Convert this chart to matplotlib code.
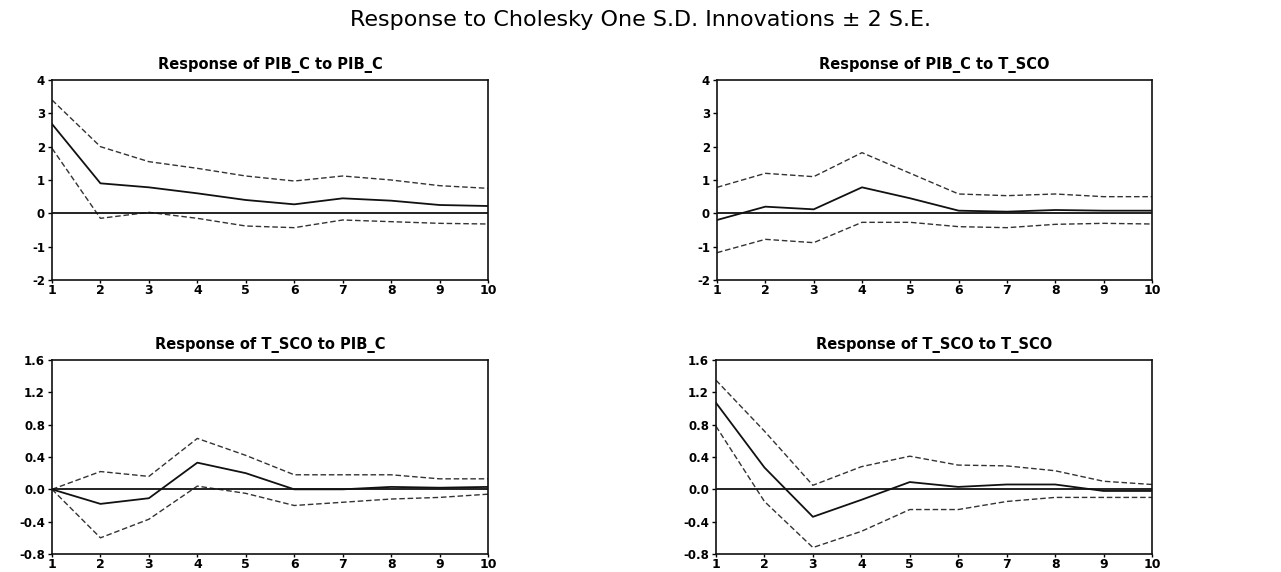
import matplotlib
matplotlib.use("Agg")
import matplotlib.pyplot as plt

plt.rcParams['font.family'] = ['DejaVu Sans']

periods = list(range(1, 11))

# Response of PIB_C to PIB_C
pib_pib_mid = [2.68, 0.90, 0.78, 0.60, 0.40, 0.27, 0.45, 0.38, 0.25, 0.22]
pib_pib_up = [3.40, 2.00, 1.55, 1.35, 1.12, 0.97, 1.12, 1.00, 0.83, 0.75]
pib_pib_lo = [1.95, -0.15, 0.03, -0.15, -0.38, -0.43, -0.20, -0.25, -0.30, -0.32]

# Response of PIB_C to T_SCO
pib_sco_mid = [-0.20, 0.20, 0.12, 0.78, 0.45, 0.08, 0.05, 0.10, 0.08, 0.08]
pib_sco_up = [0.78, 1.20, 1.10, 1.82, 1.20, 0.58, 0.53, 0.58, 0.50, 0.50]
pib_sco_lo = [-1.18, -0.78, -0.88, -0.27, -0.27, -0.40, -0.43, -0.33, -0.30, -0.32]

# Response of T_SCO to PIB_C
sco_pib_mid = [0.00, -0.18, -0.11, 0.33, 0.20, 0.00, 0.00, 0.03, 0.02, 0.03]
sco_pib_up = [0.00, 0.22, 0.16, 0.63, 0.42, 0.18, 0.18, 0.18, 0.13, 0.13]
sco_pib_lo = [0.00, -0.60, -0.37, 0.04, -0.05, -0.20, -0.16, -0.12, -0.10, -0.06]

# Response of T_SCO to T_SCO
sco_sco_mid = [1.07, 0.27, -0.34, -0.13, 0.09, 0.03, 0.06, 0.06, -0.02, -0.02]
sco_sco_up = [1.35, 0.72, 0.05, 0.28, 0.41, 0.30, 0.29, 0.23, 0.10, 0.06]
sco_sco_lo = [0.78, -0.15, -0.72, -0.52, -0.25, -0.25, -0.15, -0.10, -0.10, -0.10]

titles = ["Response of PIB_C to PIB_C", "Response of PIB_C to T_SCO",
          "Response of T_SCO to PIB_C", "Response of T_SCO to T_SCO"]
top_ticks = [-2, -1, 0, 1, 2, 3, 4]
top_labels = ["-2", "-1", "0", "1", "2", "3", "4"]
bot_ticks = [-0.8, -0.4, 0.0, 0.4, 0.8, 1.2, 1.6]
bot_labels = ["-0.8", "-0.4", "0.0", "0.4", "0.8", "1.2", "1.6"]

W, H = 1281, 572
fig = plt.figure(figsize=(W / 100, H / 100), dpi=100)
fig.patch.set_facecolor("white")

def px_axes(x0, x1, ytop, ybot):
    return fig.add_axes([x0 / W, 1 - ybot / H, (x1 - x0) / W, (ybot - ytop) / H])

panels = [
    (px_axes(52, 488, 80, 280), pib_pib_mid, pib_pib_up, pib_pib_lo, top_ticks, top_labels, (-2, 4)),
    (px_axes(717, 1152, 80, 280), pib_sco_mid, pib_sco_up, pib_sco_lo, top_ticks, top_labels, (-2, 4)),
    (px_axes(52, 488, 360, 554), sco_pib_mid, sco_pib_up, sco_pib_lo, bot_ticks, bot_labels, (-0.8, 1.6)),
    (px_axes(716, 1152, 360, 554), sco_sco_mid, sco_sco_up, sco_sco_lo, bot_ticks, bot_labels, (-0.8, 1.6)),
]

for (ax, mid, up, lo, yt, yl, ylim), title in zip(panels, titles):
    ax.plot(periods, up, color="#333333", lw=1.0, ls=(0, (4, 2)))
    ax.plot(periods, lo, color="#333333", lw=1.0, ls=(0, (4, 2)))
    ax.plot(periods, mid, color="#111111", lw=1.3)
    ax.axhline(0, color="#111111", lw=1.3)
    ax.set_xlim(1, 10)
    ax.set_ylim(*ylim)
    ax.set_xticks(periods)
    ax.set_xticklabels([str(p) for p in periods], fontsize=9, fontweight="bold")
    ax.set_yticks(yt)
    ax.set_yticklabels(yl, fontsize=8.5, fontweight="bold")
    ax.tick_params(axis="y", direction="out", length=3, width=1, pad=2)
    ax.tick_params(axis="x", direction="out", length=2, width=1, pad=1)
    for s in ax.spines.values():
        s.set_linewidth(1.2)
        s.set_color("#111111")
    ax.set_title(title, fontsize=10.5, fontweight="bold", pad=8)

fig.text(0.5, 1 - 20 / H, "Response to Cholesky One S.D. Innovations \u00b1 2 S.E.",
         ha="center", va="center", fontsize=16)

fig.savefig("out.png", dpi=100, facecolor="white")
